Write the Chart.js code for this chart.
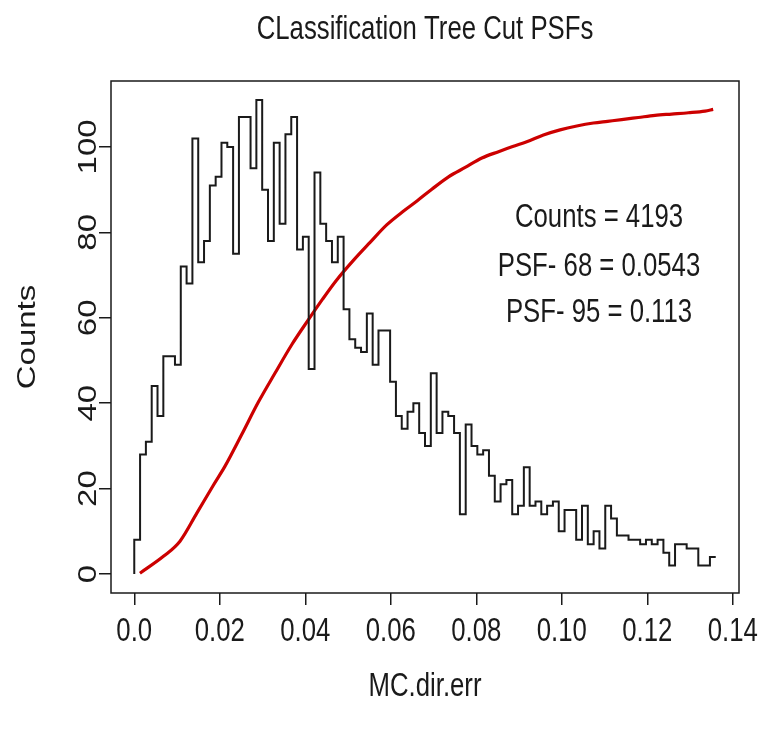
<!DOCTYPE html>
<html>
<head>
<meta charset="utf-8">
<title>CLassification Tree Cut PSFs</title>
<script src="https://cdn.jsdelivr.net/npm/chart.js@4.4.1/dist/chart.umd.min.js"></script>
<style>
  html, body { margin: 0; padding: 0; background: #fff; }
  #wrap { width: 759px; height: 729px; }
</style>
</head>
<body>
<div id="wrap"><canvas id="psfChart" width="759" height="729"></canvas></div>
<script>
// ── Histogram of MC.dir.err (100 bins from 0 to 0.136) ─────────
const binWidth = 0.00136;
const binCounts = [
    8,  28,  31,  44,  37,  51,  51,  49,  72,  68,
  102,  73,  78,  91,  93, 101, 100,  75, 107, 107,
   95, 111,  90,  78, 101,  82, 103, 107,  76,  79,
   48,  94,  82,  78,  73,  79,  62,  55,  53,  52,
   61,  49,  57,  57,  45,  37,  34,  38,  40,  33,
   30,  47,  33,  38,  37,  33,  14,  35,  30,  28,
   29,  23,  17,  21,  22,  14,  16,  25,  16,  17,
   14,  16,  17,  10,  15,  15,   8,  16,   7,  10,
    6,  16,  13,   9,   9,   8,   8,   7,   8,   7,
    8,   5,   2,   7,   7,   6,   6,   2,   2,   4
];

// ── Cumulative curve (scaled to peak count) ────────────────────
const cdfX = [0.00133, 0.0069, 0.0107, 0.0146, 0.0185, 0.0212, 0.0251, 0.0290,
              0.0329, 0.0369, 0.0407, 0.0440, 0.0473, 0.0513, 0.0551, 0.0591,
              0.0630, 0.0662, 0.0696, 0.0735, 0.0774, 0.0813, 0.0852, 0.0885,
              0.0918, 0.0957, 0.0996, 0.1035, 0.1074, 0.1107, 0.1140, 0.1179,
              0.1218, 0.1257, 0.1296, 0.1335, 0.1354];
const cdfY = [0.2, 4.2, 7.7, 14.2, 20.8, 25.2, 32.6, 40.2,
              47.0, 53.8, 59.5, 64.3, 68.8, 73.5, 77.6, 81.8,
              85.0, 87.4, 90.1, 93.0, 95.2, 97.4, 98.9, 100.1,
              101.2, 102.8, 104.0, 104.9, 105.6, 106.0, 106.4, 106.9,
              107.4, 107.7, 108.0, 108.4, 108.8];

// ── Axes / text ────────────────────────────────────────────────
const xTickValues = [0, 0.02, 0.04, 0.06, 0.08, 0.10, 0.12, 0.14];
const xTickLabels = ['0.0', '0.02', '0.04', '0.06', '0.08', '0.10', '0.12', '0.14'];
const yTickValues = [0, 20, 40, 60, 80, 100];
const yTickLabels = ['0', '20', '40', '60', '80', '100'];
const titleText = 'CLassification Tree Cut PSFs';
const xTitle = 'MC.dir.err';
const yTitle = 'Counts';
const statLines = ['Counts = 4193', 'PSF- 68 = 0.0543', 'PSF- 95 = 0.113'];

const FONT = '"Liberation Sans", Arial, Helvetica, sans-serif';
const SQUEEZE = 0.78;   // text is drawn horizontally condensed
const INK = '#1a1a1a';

// step outline: start at (0,0), then each bin's count at its right edge
const histPoints = [{ x: 0, y: 0 }].concat(
  binCounts.map((c, i) => ({ x: (i + 1) * binWidth, y: c }))
);
const cdfPoints = cdfX.map((x, i) => ({ x, y: cdfY[i] }));

function drawText(ctx, text, x, y, size, rotate) {
  ctx.save();
  ctx.translate(x, y);
  ctx.scale(SQUEEZE, 1);
  if (rotate) ctx.rotate(-Math.PI / 2);
  ctx.font = size + 'px ' + FONT;
  ctx.fillStyle = INK;
  ctx.textAlign = 'center';
  ctx.textBaseline = 'middle';
  ctx.fillText(text, 0, 0);
  ctx.restore();
}

// box, labels and annotation
const frameAndText = {
  id: 'frameAndText',
  afterDraw(chart) {
    const { ctx, chartArea: a, scales } = chart;
    const xs = scales.x, ys = scales.y;

    ctx.save();
    ctx.strokeStyle = INK;
    ctx.lineWidth = 1.5;
    ctx.strokeRect(a.left, a.top, a.right - a.left, a.bottom - a.top);
    ctx.restore();

    xTickValues.forEach((v, i) => drawText(ctx, xTickLabels[i], xs.getPixelForValue(v), 632, 33));
    yTickValues.forEach((v, i) => drawText(ctx, yTickLabels[i], 89, ys.getPixelForValue(v), 33, true));

    drawText(ctx, titleText, (a.left + a.right) / 2, 30, 33);
    drawText(ctx, xTitle, (a.left + a.right) / 2, 687, 33);
    drawText(ctx, yTitle, 28, (a.top + a.bottom) / 2, 33, true);

    const sx = xs.getPixelForValue(0.1087);
    [83.4, 71.9, 61.1].forEach((v, i) => drawText(ctx, statLines[i], sx, ys.getPixelForValue(v), 33));
  }
};

new Chart(document.getElementById('psfChart'), {
  type: 'line',
  data: {
    datasets: [
      {
        label: 'histogram',
        data: histPoints,
        stepped: 'after',
        borderColor: INK,
        borderWidth: 2,
        pointRadius: 0,
        fill: false,
      },
      {
        label: 'cumulative',
        data: cdfPoints,
        borderColor: '#CC0000',
        borderWidth: 3.2,
        pointRadius: 0,
        cubicInterpolationMode: 'monotone',
        fill: false,
      },
    ],
  },
  options: {
    responsive: false,
    animation: false,
    events: [],
    layout: { padding: { top: 81, right: 20, left: 0, bottom: 0 } },
    plugins: { legend: { display: false }, tooltip: { enabled: false }, title: { display: false } },
    scales: {
      x: {
        type: 'linear',
        min: -0.00544,
        max: 0.14144,
        afterBuildTicks: s => { s.ticks = xTickValues.map(v => ({ value: v })); },
        afterFit: s => { s.height = 136; },
        ticks: { display: false },
        border: { display: false },
        grid: { drawOnChartArea: false, drawTicks: true, tickLength: 12, color: INK, lineWidth: 1.5 },
      },
      y: {
        type: 'linear',
        min: -4.44,
        max: 115.44,
        afterBuildTicks: s => { s.ticks = yTickValues.map(v => ({ value: v })); },
        afterFit: s => { s.width = 111; },
        ticks: { display: false },
        border: { display: false },
        grid: { drawOnChartArea: false, drawTicks: true, tickLength: 12, color: INK, lineWidth: 1.5 },
      },
    },
  },
  plugins: [frameAndText],
});
</script>
</body>
</html>
